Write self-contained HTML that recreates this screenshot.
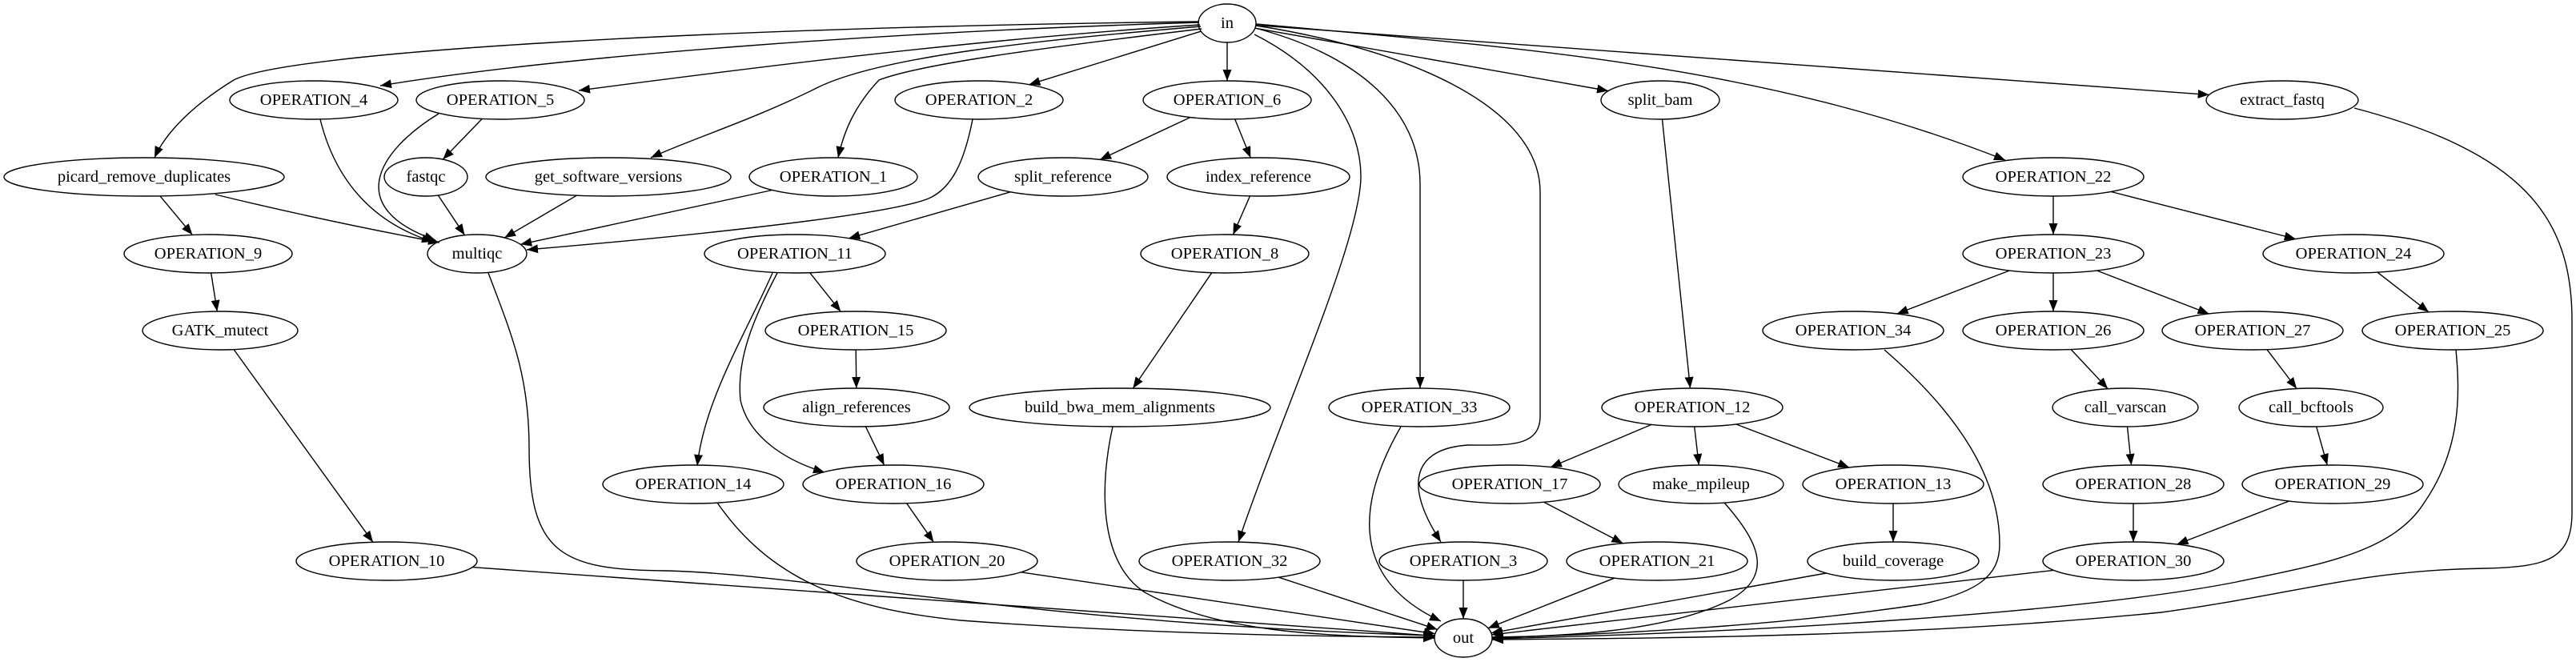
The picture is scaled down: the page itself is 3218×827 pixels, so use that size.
<!DOCTYPE html>
<html><head><meta charset="utf-8"><style>
html,body{margin:0;padding:0;background:#fff;}
svg{display:block;}
text{font-family:"Liberation Serif","DejaVu Serif",serif;font-size:20.5px;text-anchor:middle;dominant-baseline:central;fill:#000;}
ellipse{fill:none;stroke:#000;stroke-width:1.4;}
#edges path{fill:none;stroke:#000;stroke-width:1.4;}
</style></head><body>
<svg id="g" width="3218" height="827" viewBox="0 0 3218 827" xmlns="http://www.w3.org/2000/svg">
<defs><marker id="ah" markerUnits="userSpaceOnUse" markerWidth="14" markerHeight="11" refX="14" refY="5.5" orient="auto"><path d="M0,0 L14,5.5 L0,11 z" fill="#000"/></marker></defs>
<g id="edges"></g>
<g id="nodes">
<ellipse cx="1533" cy="29" rx="36" ry="24"/><text x="1533" y="29">in</text>
<ellipse cx="392" cy="125" rx="105" ry="24"/><text x="392" y="125">OPERATION_4</text>
<ellipse cx="625" cy="125" rx="105" ry="24"/><text x="625" y="125">OPERATION_5</text>
<ellipse cx="1223" cy="125" rx="105" ry="24"/><text x="1223" y="125">OPERATION_2</text>
<ellipse cx="1533" cy="125" rx="105" ry="24"/><text x="1533" y="125">OPERATION_6</text>
<ellipse cx="2074" cy="125" rx="74" ry="24"/><text x="2074" y="125">split_bam</text>
<ellipse cx="2851" cy="125" rx="95" ry="24"/><text x="2851" y="125">extract_fastq</text>
<ellipse cx="180" cy="221" rx="175" ry="24"/><text x="180" y="221">picard_remove_duplicates</text>
<ellipse cx="532" cy="221" rx="52" ry="24"/><text x="532" y="221">fastqc</text>
<ellipse cx="760" cy="221" rx="153" ry="24"/><text x="760" y="221">get_software_versions</text>
<ellipse cx="1041" cy="221" rx="105" ry="24"/><text x="1041" y="221">OPERATION_1</text>
<ellipse cx="1328" cy="221" rx="106" ry="24"/><text x="1328" y="221">split_reference</text>
<ellipse cx="1572" cy="221" rx="114" ry="24"/><text x="1572" y="221">index_reference</text>
<ellipse cx="2565" cy="221" rx="113" ry="24"/><text x="2565" y="221">OPERATION_22</text>
<ellipse cx="260" cy="317" rx="105" ry="24"/><text x="260" y="317">OPERATION_9</text>
<ellipse cx="596" cy="317" rx="62" ry="24"/><text x="596" y="317">multiqc</text>
<ellipse cx="993" cy="317" rx="113" ry="24"/><text x="993" y="317">OPERATION_11</text>
<ellipse cx="1530" cy="317" rx="105" ry="24"/><text x="1530" y="317">OPERATION_8</text>
<ellipse cx="2565" cy="317" rx="113" ry="24"/><text x="2565" y="317">OPERATION_23</text>
<ellipse cx="2940" cy="317" rx="113" ry="24"/><text x="2940" y="317">OPERATION_24</text>
<ellipse cx="275" cy="413" rx="97" ry="24"/><text x="275" y="413">GATK_mutect</text>
<ellipse cx="1069" cy="413" rx="113" ry="24"/><text x="1069" y="413">OPERATION_15</text>
<ellipse cx="2315" cy="413" rx="113" ry="24"/><text x="2315" y="413">OPERATION_34</text>
<ellipse cx="2565" cy="413" rx="113" ry="24"/><text x="2565" y="413">OPERATION_26</text>
<ellipse cx="2814" cy="413" rx="113" ry="24"/><text x="2814" y="413">OPERATION_27</text>
<ellipse cx="3064" cy="413" rx="113" ry="24"/><text x="3064" y="413">OPERATION_25</text>
<ellipse cx="1070" cy="509" rx="116" ry="24"/><text x="1070" y="509">align_references</text>
<ellipse cx="1399" cy="509" rx="188" ry="24"/><text x="1399" y="509">build_bwa_mem_alignments</text>
<ellipse cx="1773" cy="509" rx="113" ry="24"/><text x="1773" y="509">OPERATION_33</text>
<ellipse cx="2114" cy="509" rx="113" ry="24"/><text x="2114" y="509">OPERATION_12</text>
<ellipse cx="2655" cy="509" rx="91" ry="24"/><text x="2655" y="509">call_varscan</text>
<ellipse cx="2887" cy="509" rx="90" ry="24"/><text x="2887" y="509">call_bcftools</text>
<ellipse cx="866" cy="605" rx="113" ry="24"/><text x="866" y="605">OPERATION_14</text>
<ellipse cx="1116" cy="605" rx="113" ry="24"/><text x="1116" y="605">OPERATION_16</text>
<ellipse cx="1886" cy="605" rx="113" ry="24"/><text x="1886" y="605">OPERATION_17</text>
<ellipse cx="2125" cy="605" rx="103" ry="24"/><text x="2125" y="605">make_mpileup</text>
<ellipse cx="2365" cy="605" rx="113" ry="24"/><text x="2365" y="605">OPERATION_13</text>
<ellipse cx="2665" cy="605" rx="113" ry="24"/><text x="2665" y="605">OPERATION_28</text>
<ellipse cx="2914" cy="605" rx="113" ry="24"/><text x="2914" y="605">OPERATION_29</text>
<ellipse cx="483" cy="701" rx="113" ry="24"/><text x="483" y="701">OPERATION_10</text>
<ellipse cx="1183" cy="701" rx="113" ry="24"/><text x="1183" y="701">OPERATION_20</text>
<ellipse cx="1536" cy="701" rx="113" ry="24"/><text x="1536" y="701">OPERATION_32</text>
<ellipse cx="1828" cy="701" rx="105" ry="24"/><text x="1828" y="701">OPERATION_3</text>
<ellipse cx="2070" cy="701" rx="113" ry="24"/><text x="2070" y="701">OPERATION_21</text>
<ellipse cx="2365" cy="701" rx="107" ry="24"/><text x="2365" y="701">build_coverage</text>
<ellipse cx="2665" cy="701" rx="113" ry="24"/><text x="2665" y="701">OPERATION_30</text>
<ellipse cx="1828" cy="797" rx="36" ry="24"/><text x="1828" y="797">out</text>
</g>
</svg>
<script>
(function(){
var N={};
document.querySelectorAll('#nodes ellipse').forEach(function(e){
  var t=e.nextElementSibling.textContent;
  N[t]=[+e.getAttribute('cx'),+e.getAttribute('cy'),+e.getAttribute('rx'),+e.getAttribute('ry')];
});
function clip(n,tx,ty){var dx=tx-n[0],dy=ty-n[1];var k=1/Math.sqrt(dx*dx/(n[2]*n[2])+dy*dy/(n[3]*n[3]));return [n[0]+dx*k,n[1]+dy*k];}
var P=[];
function s(a,b){var A=N[a],B=N[b];var p=clip(A,B[0],B[1]),q=clip(B,A[0],A[1]);P.push('M'+p[0].toFixed(1)+','+p[1].toFixed(1)+' L'+q[0].toFixed(1)+','+q[1].toFixed(1));}
P.push('M1498,27 C900,34 360,64 292,100 C235,135 205,170 193,197');
P.push('M1498,28 C1100,40 700,70 475,107');
P.push('M1499,31 C1200,50 900,90 723,113');
P.push('M1500,33 C1300,50 1100,70 1020,110 C940,150 860,175 813,197');
P.push('M1501,36 C1300,60 1150,80 1098,100 C1070,130 1055,160 1047,197');
s('in','OPERATION_2');s('in','OPERATION_6');s('in','split_bam');s('in','extract_fastq');
P.push('M1567,43 C1660,90 1700,160 1700,220 C1700,300 1600,520 1547,677');
P.push('M1568,35 C1700,70 1774,140 1774,230 L1774,485');
P.push('M1569,32 C1750,60 1924,130 1924,240 L1924,520 C1924,560 1880,556 1834,556 C1770,560 1750,600 1800,677');
P.push('M1569,30 C1900,60 2200,80 2505,200');
P.push('M400,149 C420,230 470,280 541,302');
P.push('M548,142 C470,190 430,260 544,300');
s('OPERATION_5','fastqc');s('fastqc','multiqc');s('get_software_versions','multiqc');s('OPERATION_1','multiqc');
P.push('M269,243 C380,270 480,290 549,303');
P.push('M1215,149 C1205,200 1190,235 1160,248 C1100,272 800,300 658,312');
s('picard_remove_duplicates','OPERATION_9');s('OPERATION_9','GATK_mutect');s('GATK_mutect','OPERATION_10');
s('OPERATION_6','split_reference');s('OPERATION_6','index_reference');
s('split_reference','OPERATION_11');s('index_reference','OPERATION_8');s('OPERATION_8','build_bwa_mem_alignments');
s('OPERATION_11','OPERATION_15');s('OPERATION_15','align_references');s('align_references','OPERATION_16');s('OPERATION_16','OPERATION_20');
P.push('M965,341 C930,420 880,500 871,582');
P.push('M971,341 C940,400 920,450 925,500 C935,545 980,575 1030,590');
s('split_bam','OPERATION_12');s('OPERATION_12','OPERATION_17');s('OPERATION_12','make_mpileup');s('OPERATION_12','OPERATION_13');
s('OPERATION_17','OPERATION_21');s('OPERATION_13','build_coverage');
s('OPERATION_22','OPERATION_23');s('OPERATION_22','OPERATION_24');
s('OPERATION_23','OPERATION_34');s('OPERATION_23','OPERATION_26');s('OPERATION_23','OPERATION_27');
s('OPERATION_24','OPERATION_25');s('OPERATION_26','call_varscan');s('OPERATION_27','call_bcftools');
s('call_varscan','OPERATION_28');s('call_bcftools','OPERATION_29');s('OPERATION_28','OPERATION_30');s('OPERATION_29','OPERATION_30');
P.push('M610,341 C640,420 661,470 661,560 C661,690 700,712 830,713 C1000,716 1300,780 1792,794');
P.push('M896,628 C960,720 1050,760 1200,775 C1400,790 1600,795 1792,796');
P.push('M1390,533 C1375,600 1370,700 1430,740 C1520,790 1650,795 1792,797');
P.push('M1750,533 C1700,620 1680,720 1800,776');
s('OPERATION_10','out');s('OPERATION_20','out');s('OPERATION_32','out');s('OPERATION_3','out');s('OPERATION_21','out');
s('build_coverage','out');s('OPERATION_30','out');
P.push('M2154,628 C2200,680 2215,720 2160,750 C2080,790 1950,795 1864,796');
P.push('M2354,437 C2450,520 2498,600 2498,680 C2498,720 2470,740 2400,755 C2200,785 2000,792 1864,797');
P.push('M3068,437 C3073,490 3075,560 3029,627 C2990,690 2900,705 2794,727 C2600,765 2200,790 1864,798');
P.push('M2941,135 C3150,190 3213,270 3213,400 L3213,640 C3213,700 3180,708 3105,710 C2950,712 2880,740 2700,765 C2400,795 2100,797 1864,799');
var g=document.getElementById('edges');
P.forEach(function(d){var p=document.createElementNS('http://www.w3.org/2000/svg','path');p.setAttribute('d',d);p.setAttribute('marker-end','url(#ah)');g.appendChild(p);});
})();
</script>
</body></html>
